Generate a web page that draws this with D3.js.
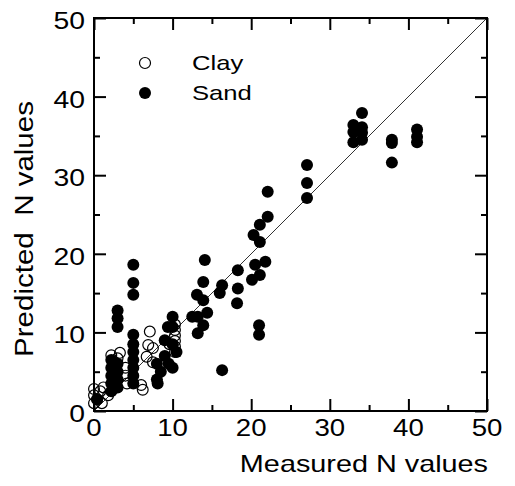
<!DOCTYPE html>
<html>
<head>
<meta charset="utf-8">
<script src="https://cdn.jsdelivr.net/npm/d3@7"></script>
<style>
  body { margin: 0; background: #fff; }
  svg { font-family: "Liberation Sans", Arial, Helvetica, sans-serif; }
  text { white-space: pre; }
</style>
</head>
<body>
<div id="chart"></div>
<script>
// measured / predicted N values
var clayMeasured  = [0, 0, 0, 0.4, 0.8, 1, 1.2, 1.8, 2.4, 2.7, 2.2, 3.3, 3, 4, 4, 4.2, 6, 6.2, 6.7, 7.5, 6.9, 7.5, 7.1, 10.3, 10.3, 10.3, 10.3, 10.3, 10.3, 9.6];
var clayPredicted = [1, 2, 2.8, 1.5, 2.5, 1, 3, 2, 2.8, 3.7, 7.1, 7.4, 6.7, 5.5, 4.5, 3.5, 3.3, 2.7, 6.9, 6.2, 8.4, 8.0, 10.1, 11, 10.3, 9.6, 8.9, 8.2, 7.5, 8.5];

var sandMeasured = [41.1, 41.1, 41.1, 37.9, 37.9, 37.9,
  34.1, 33, 34.1, 33, 34.1, 33, 34.1,
  27.1, 27.1, 27.1,
  22.1, 22.1, 21.1, 20.3, 21.1, 21.8, 20.5, 21.1, 20.1, 21, 21,
  18.3, 18.3, 18.2, 16.3, 16, 16.3,
  14.1, 13.9, 13.1, 13.9, 14.4, 12.5, 13.2, 13.9, 13.2,
  10, 10, 10.5, 9.4, 9, 10, 9.5, 8, 8.5, 8, 8.1, 10, 9,
  5, 5, 5, 5, 5, 5, 5, 5, 5, 5,
  3, 3, 3, 3, 3, 3, 3,
  2.2, 2.2, 2.2, 2.2, 2.2, 0.4];
var sandPredicted = [35.8, 34.9, 34.2, 34.5, 34.1, 31.6,
  37.9, 36.4, 36.1, 35.5, 35.4, 34.2, 34.5,
  31.3, 29.0, 27.1,
  27.9, 24.7, 23.7, 22.4, 21.5, 19.0, 18.6, 17.3, 16.7, 10.9, 9.7,
  17.9, 15.6, 13.7, 16.0, 15.0, 5.2,
  19.2, 16.4, 14.8, 14.1, 12.5, 12.0, 12.0, 10.9, 9.9,
  12, 10.7, 7.5, 10.7, 9, 8.5, 6, 6, 5, 4, 3.5, 5.5, 7,
  18.6, 16.3, 14.8, 9.7, 8.5, 7.5, 6.5, 5.5, 4.5, 3.5,
  12.8, 11.8, 10.7, 6, 5, 4, 3,
  6.5, 5.5, 4.5, 3.5, 2.5, 1.5];

var xTicks = [0, 10, 20, 30, 40, 50];
var yTicks = [0, 10, 20, 30, 40, 50];

var width = 515,
    height = 486;
var margin = {top: 18, right: 28, bottom: 75, left: 94};
var graphWidth = width - margin.left - margin.right,
    graphHeight = height - margin.top - margin.bottom;

var svg = d3.select("#chart").append("svg")
  .attr("width", width)
  .attr("height", height);

var g = svg.append("g")
  .attr("transform", "translate(" + margin.left + "," + margin.top + ")");

var xScale = d3.scaleLinear().domain([0, 50]).range([0, graphWidth]);
var yScale = d3.scaleLinear().domain([0, 50]).range([graphHeight, 0]);

// the scanned font is wider than Arial, so stretch the text a bit
function widen(sel, k) {
  sel.each(function() {
    var len = this.getComputedTextLength();
    d3.select(this).attr("textLength", len * k).attr("lengthAdjust", "spacingAndGlyphs");
  });
}

// 1:1 line
g.append("line")
  .attr("x1", xScale(0)).attr("y1", yScale(0))
  .attr("x2", xScale(50)).attr("y2", yScale(50))
  .attr("stroke", "#333")
  .attr("stroke-width", 1);

// points
var r = 6;
g.append("g").selectAll("circle")
  .data(sandMeasured.map((d, i) => [d, sandPredicted[i]]))
  .enter().append("circle")
  .attr("cx", d => xScale(d[0]))
  .attr("cy", d => yScale(d[1]))
  .attr("r", r)
  .attr("fill", "#000");

g.append("g").selectAll("circle")
  .data(clayMeasured.map((d, i) => [d, clayPredicted[i]]))
  .enter().append("circle")
  .attr("cx", d => xScale(d[0]))
  .attr("cy", d => yScale(d[1]))
  .attr("r", r - 0.6)
  .attr("fill", "none")
  .attr("stroke", "#000")
  .attr("stroke-width", 1.2);

// axes with inward ticks on all four sides (major every 10, minor every 5)
var minor = d3.range(0, 51, 5);
function tickAxis(axisFn, scale, transform, size) {
  g.append("g")
    .attr("transform", transform)
    .call(axisFn(scale).tickValues(minor).tickSize(size).tickFormat(""))
    .call(a => a.select(".domain").remove())
    .selectAll("line")
    .attr("stroke", "#000")
    .attr("stroke-width", 2)
    .each(function(d) {
      var s = d % 10 === 0 ? size : size / 2;
      var el = d3.select(this);
      if (el.attr("x2") != null && +el.attr("x2") !== 0) el.attr("x2", s * Math.sign(+el.attr("x2")));
      if (el.attr("y2") != null && +el.attr("y2") !== 0) el.attr("y2", s * Math.sign(+el.attr("y2")));
    });
}
tickAxis(d3.axisTop, xScale, "translate(0," + graphHeight + ")", 12);
tickAxis(d3.axisBottom, xScale, "translate(0,0)", 12);
tickAxis(d3.axisRight, yScale, "translate(0,0)", 12);
tickAxis(d3.axisLeft, yScale, "translate(" + graphWidth + ",0)", 12);

// frame
g.append("rect")
  .attr("width", graphWidth)
  .attr("height", graphHeight)
  .attr("fill", "none")
  .attr("stroke", "#000")
  .attr("stroke-width", 2);

// tick labels
g.append("g").selectAll("text")
  .data(xTicks)
  .enter().append("text")
  .attr("x", d => xScale(d))
  .attr("y", graphHeight + 25)
  .attr("text-anchor", "middle")
  .attr("font-size", 24)
  .text(d => d)
  .call(widen, 1.15);

g.append("g").selectAll("text")
  .data(yTicks)
  .enter().append("text")
  .attr("x", -9)
  .attr("y", d => yScale(d) + 11)
  .attr("text-anchor", "end")
  .attr("font-size", 24)
  .text(d => d)
  .call(widen, 1.18);

// axis titles
svg.append("text")
  .attr("x", 488)
  .attr("y", 472)
  .attr("text-anchor", "end")
  .attr("font-size", 24)
  .text("Measured N values")
  .call(widen, 1.2);

svg.append("text")
  .attr("text-anchor", "middle")
  .attr("transform", "translate(33,229) rotate(-90)")
  .attr("font-size", 25)
  .text("Predicted  N values")
  .call(widen, 1.18);

// legend
var legend = [{name: "Clay", fill: "none"}, {name: "Sand", fill: "#000"}];
var lg = svg.append("g").selectAll("g")
  .data(legend)
  .enter().append("g")
  .attr("transform", (d, i) => "translate(145," + (63 + i * 30) + ")");
lg.append("circle")
  .attr("r", d => d.fill === "none" ? 5.5 : 6)
  .attr("fill", d => d.fill)
  .attr("stroke", "#000")
  .attr("stroke-width", d => d.fill === "none" ? 1.2 : 0);
lg.append("text")
  .attr("x", 47)
  .attr("y", 7)
  .attr("font-size", 21)
  .text(d => d.name)
  .call(widen, 1.22);
</script>
</body>
</html>
